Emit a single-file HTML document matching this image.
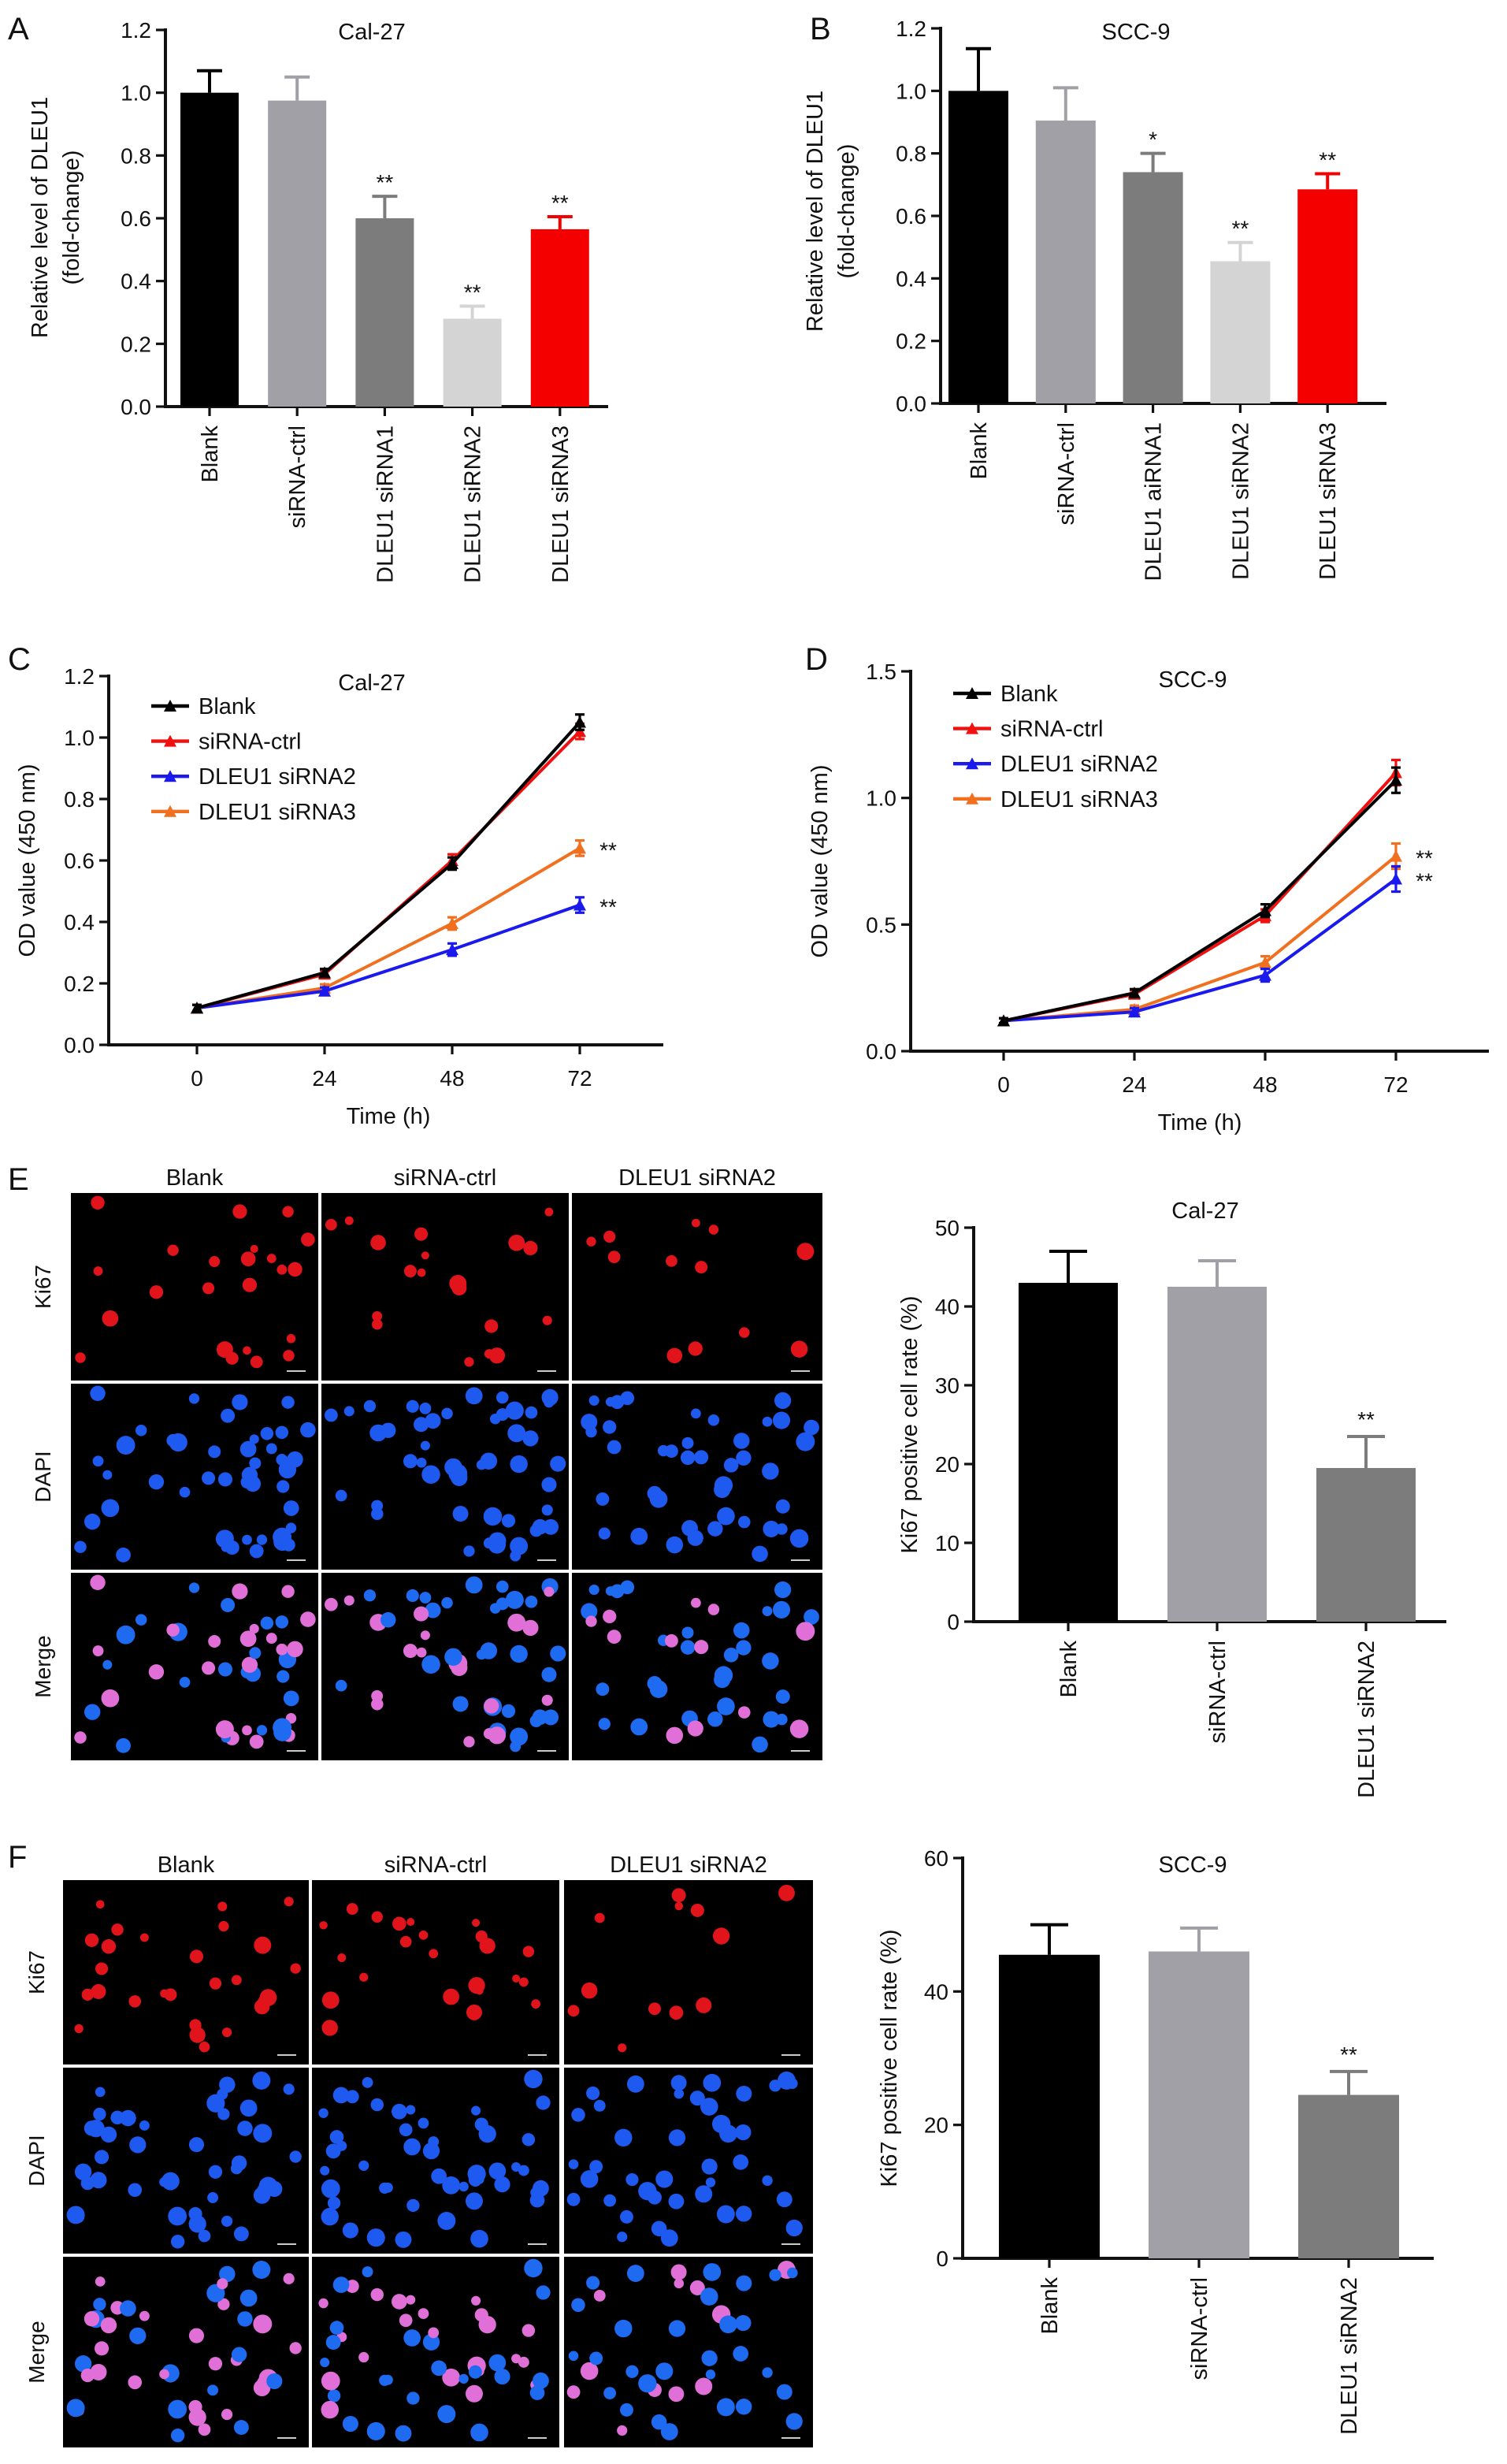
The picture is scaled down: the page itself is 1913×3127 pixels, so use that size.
<!DOCTYPE html>
<html><head><meta charset="utf-8"><style>
html,body{margin:0;padding:0;background:#fff}
svg{display:block;font-family:"Liberation Sans",Arial,sans-serif}
</style></head><body>
<svg id="fig" width="1913" height="3127" viewBox="0 0 956.5 1563.5" xmlns="http://www.w3.org/2000/svg">
<rect width="956.5" height="1563.5" fill="#fff"/>
</svg>
<script>
// ---- data ----
const catsAB = ["Blank","siRNA-ctrl","DLEU1 siRNA1","DLEU1 siRNA2","DLEU1 siRNA3"];
const catsB = ["Blank","siRNA-ctrl","DLEU1 aiRNA1","DLEU1 siRNA2","DLEU1 siRNA3"];
const colorsAB = ["#000000","#a0a0a6","#7c7c7c","#d4d4d4","#f40000"];
const valsA = [1.0,0.975,0.60,0.28,0.565];
const errA = [0.07,0.075,0.07,0.04,0.04];
const starsA = ["","","**","**","**"];
const valsB = [1.0,0.905,0.74,0.455,0.685];
const errB = [0.135,0.105,0.06,0.06,0.05];
const starsB = ["","","*","**","**"];
const ticksAB = [0,0.2,0.4,0.6,0.8,1.0,1.2];
const timeCats = [0,24,48,72];
const seriesNames = ["Blank","siRNA-ctrl","DLEU1 siRNA2","DLEU1 siRNA3"];
const seriesColors = ["#000","#f01010","#1a1aee","#f07020"];
const cBlank = [0.12,0.235,0.59,1.05];
const cCtrl = [0.12,0.23,0.60,1.02];
const cSi2 = [0.12,0.175,0.31,0.455];
const cSi3 = [0.12,0.185,0.395,0.64];
const cErr = [0.01,0.012,0.02,0.025];
const ticksC = [0,0.2,0.4,0.6,0.8,1.0,1.2];
const dBlank = [0.12,0.23,0.555,1.07];
const dCtrl = [0.12,0.225,0.535,1.10];
const dSi2 = [0.12,0.155,0.30,0.68];
const dSi3 = [0.12,0.165,0.35,0.77];
const dErr = [0.01,0.015,0.025,0.05];
const ticksD = [0,0.5,1.0,1.5];
const catsEF = ["Blank","siRNA-ctrl","DLEU1 siRNA2"];
const colorsEF = ["#000","#a0a0a6","#7c7c7c"];
const valsE = [43,42.5,19.5];
const errE = [4,3.3,4];
const valsF = [45.5,46,24.5];
const errF = [4.5,3.5,3.5];
const ticksE = [0,10,20,30,40,50];
const ticksF = [0,20,40,60];

const NS="http://www.w3.org/2000/svg";
const svg=document.getElementById('fig');
function el(tag,attrs,parent,text){const e=document.createElementNS(NS,tag);for(const k in attrs)e.setAttribute(k,attrs[k]);if(text!==undefined)e.textContent=text;(parent||svg).appendChild(e);return e;}
function grp(name){const g=el('g',{});return g;}
function txt(g,x,y,s,size,anchor,rot,name){const t=el('text',{x:x,y:y,'font-size':size,'text-anchor':anchor||'middle',fill:'#111'},g,s);if(rot)t.setAttribute('transform','rotate('+rot+' '+x+' '+y+')');


return t;}

function letter(l,x,y){const g=grp('panel-'+l.toLowerCase()+'-letter');txt(g,x,y,l,20,'start',0,'panel-letter');}

function barChart(o){
  const g=grp(o.name);
  const ys=v=>o.y0-(v-o.ymin)/(o.ymax-o.ymin)*(o.y0-o.y1);
  // y axis
  el('line',{x1:o.ax,y1:o.y1-1,x2:o.ax,y2:o.y0+1,stroke:'#111','stroke-width':2},g);
  el('line',{x1:o.ax,y1:o.y0,x2:o.xend,y2:o.y0,stroke:'#111','stroke-width':2},g);
  o.ticks.forEach(t=>{const y=ys(t);el('line',{x1:o.ax-6,y1:y,x2:o.ax,y2:y,stroke:'#111','stroke-width':1.6},g);
    txt(g,o.ax-9,y+5,o.fmt(t),14,'end',0,'y-tick-label');});
  o.vals.forEach((v,i)=>{const cx=o.cx0+i*o.step;const top=ys(v);
    const b=el('rect',{x:cx-o.bw/2,y:top,width:o.bw,height:o.y0-top,fill:o.colors[i]},g);
    
    
    const et=ys(v+o.err[i]);
    el('line',{x1:cx,y1:top,x2:cx,y2:et,stroke:o.colors[i],'stroke-width':2},g);
    el('line',{x1:cx-8,y1:et,x2:cx+8,y2:et,stroke:o.colors[i],'stroke-width':2},g);
    if(o.stars[i])txt(g,cx,et-4,o.stars[i],14,'middle',0,'significance-stars');
    el('line',{x1:cx,y1:o.y0,x2:cx,y2:o.y0+6,stroke:'#111','stroke-width':1.6},g);
    txt(g,cx+5,o.y0+12,o.cats[i],14.5,'end',-90,'x-category-label');
  });
  txt(g,o.tx,o.ty,o.title,14.5,'middle',0,'chart-title');
  o.ylab.forEach((l,j)=>txt(g,o.ylx+j*20,o.yly,l,14.5,'middle',-90,'y-axis-title'));
}

function lineChart(o){
  const g=grp(o.name);
  const ys=v=>o.y0-(v-o.ymin)/(o.ymax-o.ymin)*(o.y0-o.y1);
  const xs=t=>o.x0+(t-timeCats[0])/(timeCats[3]-timeCats[0])*(o.x3-o.x0);
  el('line',{x1:o.ax,y1:o.y1-1,x2:o.ax,y2:o.y0+1,stroke:'#111','stroke-width':2},g);
  el('line',{x1:o.ax,y1:o.y0,x2:o.xend,y2:o.y0,stroke:'#111','stroke-width':2},g);
  o.ticks.forEach(t=>{const y=ys(t);el('line',{x1:o.ax-6,y1:y,x2:o.ax,y2:y,stroke:'#111','stroke-width':1.6},g);
    txt(g,o.ax-9,y+5,o.fmt(t),14,'end',0,'y-tick-label');});
  timeCats.forEach(t=>{const x=xs(t);el('line',{x1:x,y1:o.y0,x2:x,y2:o.y0+6,stroke:'#111','stroke-width':1.6},g);
    txt(g,x,o.y0+26,String(t),14,'middle',0,'x-tick-label');});
  const order=[3,2,1,0];
  order.forEach(si=>{const d=o.series[si];const c=seriesColors[si];
    const sg=el('g',{},g);
    el('polyline',{points:d.map((v,i)=>xs(timeCats[i])+','+ys(v)).join(' '),fill:'none',stroke:c,'stroke-width':2},sg);
    d.forEach((v,i)=>{const x=xs(timeCats[i]),y=ys(v);const e=o.err[i];
      el('line',{x1:x,y1:ys(v-e),x2:x,y2:ys(v+e),stroke:c,'stroke-width':1.6},sg);
      el('line',{x1:x-3,y1:ys(v+e),x2:x+3,y2:ys(v+e),stroke:c,'stroke-width':1.6},sg);
      el('line',{x1:x-3,y1:ys(v-e),x2:x+3,y2:ys(v-e),stroke:c,'stroke-width':1.6},sg);
      el('polygon',{points:(x-4)+','+(y+3.5)+' '+(x+4)+','+(y+3.5)+' '+x+','+(y-4),fill:c},sg);});
  });
  o.starIdx.forEach(si=>{const v=o.series[si][3];txt(g,xs(72)+18,ys(v)+6,'**',14,'middle',0,'significance-stars');});
  seriesNames.forEach((n,i)=>{const y=o.ly+i*22.3;const lg=el('g',{},g);
    el('line',{x1:o.lx,y1:y,x2:o.lx+24,y2:y,stroke:seriesColors[i],'stroke-width':2.2},lg);
    el('polygon',{points:(o.lx+8)+','+(y+3.5)+' '+(o.lx+16)+','+(y+3.5)+' '+(o.lx+12)+','+(y-4),fill:seriesColors[i]},lg);
    txt(lg,o.lx+30,y+5,n,14.5,'start',0,'legend-label');});
  txt(g,o.tx,o.ty,o.title,14.5,'middle',0,'chart-title');
  txt(g,(o.x0+o.x3)/2,o.y0+50,'Time (h)',14.5,'middle',0,'x-axis-title');
  txt(g,o.ylx,(o.y0+o.y1)/2,'OD value (450 nm)',14.5,'middle',-90,'y-axis-title');
}

letter('A',5,25);letter('B',514,25);letter('C',5,425);letter('D',511,425);letter('E',5,755);letter('F',5,1185);

barChart({name:'chart-a-cal27',cats:catsAB,vals:valsA,err:errA,stars:starsA,colors:colorsAB,ticks:ticksAB,fmt:t=>t.toFixed(1),
  ax:105,y0:258,y1:19,ymin:0,ymax:1.2,xend:386,cx0:133,step:55.6,bw:37,title:'Cal-27',tx:236,ty:25,ylab:['Relative level of DLEU1','(fold-change)'],ylx:30,yly:138});
barChart({name:'chart-b-scc9',cats:catsB,vals:valsB,err:errB,stars:starsB,colors:colorsAB,ticks:ticksAB,fmt:t=>t.toFixed(1),
  ax:597,y0:256,y1:18,ymin:0,ymax:1.2,xend:880,cx0:621,step:55.4,bw:38,title:'SCC-9',tx:721,ty:25,ylab:['Relative level of DLEU1','(fold-change)'],ylx:522,yly:134});
lineChart({name:'chart-c-cal27-od',series:[cBlank,cCtrl,cSi2,cSi3],err:cErr,ticks:ticksC,fmt:t=>t.toFixed(1),
  ax:69,y0:663,y1:429,ymin:0,ymax:1.2,xend:421,x0:125,x3:368,starIdx:[3,2],lx:96,ly:448,tx:236,ty:438,title:'Cal-27',ylx:22});
lineChart({name:'chart-d-scc9-od',series:[dBlank,dCtrl,dSi2,dSi3],err:dErr,ticks:ticksD,fmt:t=>t.toFixed(1),
  ax:578,y0:667,y1:426,ymin:0,ymax:1.5,xend:945,x0:637,x3:886,starIdx:[3,2],lx:605,ly:440,tx:757,ty:436,title:'SCC-9',ylx:525});

function ki(o){
  const g=grp(o.name);
  const ys=v=>o.y0-v/o.ymax*(o.y0-o.y1);
  el('line',{x1:o.ax,y1:o.y1-1,x2:o.ax,y2:o.y0+1,stroke:'#111','stroke-width':2},g);
  el('line',{x1:o.ax,y1:o.y0,x2:o.xend,y2:o.y0,stroke:'#111','stroke-width':2},g);
  o.ticks.forEach(t=>{const y=ys(t);el('line',{x1:o.ax-6,y1:y,x2:o.ax,y2:y,stroke:'#111','stroke-width':1.6},g);
    txt(g,o.ax-9,y+5,String(t),14,'end',0,'y-tick-label');});
  o.vals.forEach((v,i)=>{const cx=o.cx0+i*o.step,top=ys(v);
    const b=el('rect',{x:cx-o.bw/2,y:top,width:o.bw,height:o.y0-top,fill:colorsEF[i]},g);
    
    
    const et=ys(v+o.err[i]);
    el('line',{x1:cx,y1:top,x2:cx,y2:et,stroke:colorsEF[i],'stroke-width':2},g);
    el('line',{x1:cx-12,y1:et,x2:cx+12,y2:et,stroke:colorsEF[i],'stroke-width':2},g);
    if(i==2)txt(g,cx,et-6,'**',14,'middle',0,'significance-stars');
    el('line',{x1:cx,y1:o.y0,x2:cx,y2:o.y0+6,stroke:'#111','stroke-width':1.6},g);
    txt(g,cx+5,o.y0+12,catsEF[i],14.5,'end',-90,'x-category-label');});
  txt(g,o.tx,o.ty,o.title,14.5,'middle',0,'chart-title');
  txt(g,o.ylx,(o.y0+o.y1)/2,'Ki67 positive cell rate (%)',14.5,'middle',-90,'y-axis-title');
}
ki({name:'chart-e-ki67-cal27',vals:valsE,err:errE,ticks:ticksE,ax:618,y0:1029,y1:779,ymax:50,xend:918,cx0:678,step:94.5,bw:63,title:'Cal-27',tx:765,ty:773,ylx:582});
ki({name:'chart-f-ki67-scc9',vals:valsF,err:errF,ticks:ticksF,ax:611,y0:1433,y1:1179,ymax:60,xend:910,cx0:666,step:95,bw:64,title:'SCC-9',tx:757,ty:1188,ylx:569});

// microscopy panels (decorative)
let seed=7;function rnd(){seed=(seed*16807)%2147483647;return seed/2147483647;}
function micro(name,x0,cols,y0,rows,hy,ry){
  const g=grp(name);
  const heads=["Blank","siRNA-ctrl","DLEU1 siRNA2"],rl=["Ki67","DAPI","Merge"];
  heads.forEach((h,i)=>txt(g,(cols[i][0]+cols[i][1])/2,hy,h,14.5,'middle',0,'column-header'));
  rows.forEach((r,j)=>txt(g,ry,(r[0]+r[1])/2,rl[j],14,'middle',-90,'row-label'));
  cols.forEach((c,i)=>{
    const cells=[];const n=[45,50,42][i];
    for(let k=0;k<n;k++)cells.push([c[0]+6+rnd()*(c[1]-c[0]-12),rnd(),2.5+rnd()*3,rnd()<[0.55,0.5,0.3][i]]);
    rows.forEach((r,j)=>{
      const im=el('rect',{x:c[0],y:r[0],width:c[1]-c[0],height:r[1]-r[0],fill:'#000'},g);
      
      
      cells.forEach(ce=>{const cy=r[0]+6+ce[1]*(r[1]-r[0]-12);
        if(j==0){if(ce[3])el('circle',{cx:ce[0],cy:cy,r:ce[2],fill:'#e0141a'},g);}
        else if(j==1)el('circle',{cx:ce[0],cy:cy,r:ce[2]+0.5,fill:'#1e5af0'},g);
        else el('circle',{cx:ce[0],cy:cy,r:ce[2]+0.5,fill:ce[3]?'#e070d8':'#1e6af0'},g);});
      el('line',{x1:c[1]-20,y1:r[1]-6,x2:c[1]-8,y2:r[1]-6,stroke:'#ccc','stroke-width':1},g);
    });
  });
}
micro('micrographs-e',0,[[45,202],[204,361],[363,522]],0,[[757,876],[878,996],[998,1117]],752,32);
micro('micrographs-f',0,[[40,196],[198,355],[358,516]],0,[[1193,1310],[1312,1430],[1432,1553]],1188,28);
</script>
</body></html>
